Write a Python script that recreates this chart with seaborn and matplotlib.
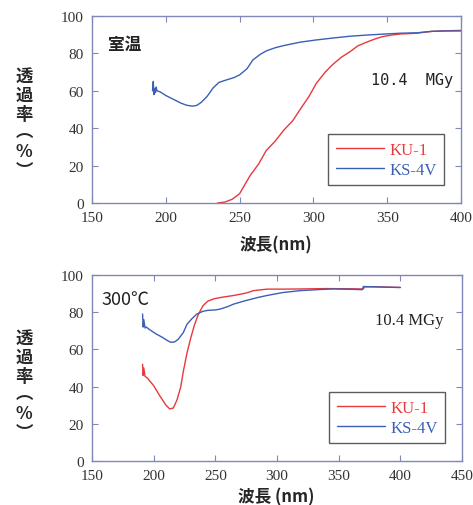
import matplotlib
matplotlib.use("Agg")
import matplotlib.pyplot as plt
import seaborn as sns
import pandas as pd

# top panel: room temperature, 10.4 MGy
rt_ku1_nm = [235, 240, 245, 250, 257, 263, 268, 274, 280, 286, 291, 297, 302, 308, 313, 319, 325,
             330, 336, 342, 347, 353, 359, 365, 370, 376, 381, 390, 400]
rt_ku1_t = [0, 0.5, 2, 5, 14.5, 21, 28, 33, 39, 44, 50, 57, 64, 70, 74, 78, 81,
            84, 86, 87.8, 89, 89.8, 90.4, 90.6, 90.8, 91.4, 91.8, 92.1, 92.3]
rt_ks4v_nm = [191, 191.5, 192, 192.5, 193, 193.5, 194, 196, 200, 205, 210, 214, 218, 221, 224, 228, 232,
              236, 241, 246, 250, 255, 259, 264, 268, 274, 280, 291, 302, 313, 325, 336, 347, 359, 370,
              380, 390, 400]
rt_ks4v_t = [60, 65, 58, 61, 59, 62, 60, 59.5, 57.5, 55.5, 53.5, 52.3, 51.8, 52.2, 53.8, 57, 61.5,
             64.5, 65.8, 67, 68.5, 71.8, 76.5, 79.5, 81.3, 83, 84.2, 86, 87.2, 88.2, 89.2, 89.8, 90.3, 90.8, 91,
             91.8, 92, 92]

# bottom panel: 300 degC, 10.4 MGy
ht_ku1_nm = [191, 191.5, 192, 193, 195, 200, 205, 210, 213, 216, 219, 222, 224, 227, 230, 233, 236,
             240, 244, 249, 255, 265, 275, 281, 292, 305, 319, 340, 360, 370, 371, 380, 390, 400]
ht_ku1_t = [52, 46, 50, 45.5, 44.5, 40.5, 35, 30, 28, 28.5, 33, 40, 48, 58, 66, 73, 78.5,
            83.5, 86, 87.2, 88, 89, 90.3, 91.6, 92.4, 92.4, 92.5, 92.7, 92.6, 92.5, 93.6, 93.7, 93.5, 93.3]
ht_ks4v_nm = [191, 191.5, 192, 193, 194, 197, 202, 207, 211, 214, 217, 220, 224, 227, 231, 235, 240,
              244, 250, 254, 260, 265, 275, 285, 292, 305, 319, 335, 346, 360, 369, 370, 380, 390, 400]
ht_ks4v_t = [79, 72, 76, 71.5, 72, 70.5, 68.3, 66.5, 64.8, 63.8, 64, 65.5, 69, 73.5, 76.5, 79, 80.5,
             81, 81.2, 81.7, 83, 84.4, 86.3, 88, 89, 90.6, 91.6, 92.2, 92.5, 92.3, 92.1, 93.8, 93.6, 93.4, 93.3]

series_names = ["KU-1", "KS-4V"]
series_colors = ["#e8383d", "#3a5fb5"]

sns.set_style("ticks")
plt.rcParams["font.family"] = ["Liberation Serif", "Noto Sans CJK JP"]
spine_col = "#8088b8"

fig = plt.figure(figsize=(4.73, 5.06), dpi=100)
W, H = 473, 506
ax1 = fig.add_axes([92 / W, 1 - 204 / H, 369 / W, 187 / H])
ax2 = fig.add_axes([92 / W, 1 - 462 / H, 370 / W, 186 / H])


def make_df(nm1, t1, nm2, t2):
    return pd.concat([
        pd.DataFrame({"nm": nm1, "t": t1, "s": series_names[0]}),
        pd.DataFrame({"nm": nm2, "t": t2, "s": series_names[1]}),
    ])


panels = [
    (ax1, make_df(rt_ku1_nm, rt_ku1_t, rt_ks4v_nm, rt_ks4v_t), 400),
    (ax2, make_df(ht_ku1_nm, ht_ku1_t, ht_ks4v_nm, ht_ks4v_t), 450),
]

for ax, df, xmax in panels:
    sns.lineplot(data=df, x="nm", y="t", hue="s", palette=series_colors, hue_order=series_names,
                 sort=False, estimator=None, lw=1.0, ax=ax)
    ax.set_xlim(150, xmax)
    ax.set_ylim(0, 100)
    ax.set_xticks(range(150, xmax + 1, 50))
    ax.set_yticks(range(0, 101, 20))
    ax.tick_params(direction="in", top=True, right=True, length=4, color=spine_col,
                   labelsize=11, labelcolor="#333333", pad=6)
    for sp in ax.spines.values():
        sp.set_color(spine_col)
        sp.set_linewidth(1.0)
    ax.set_xlabel("")
    ax.set_ylabel("")
    leg = ax.legend(loc="lower right", bbox_to_anchor=(0.954, 0.095), borderaxespad=0, frameon=True,
                    fancybox=False, fontsize=12, handlelength=2.9, handletextpad=0.3, borderpad=0.45,
                    labelspacing=0.25)
    leg.get_frame().set_edgecolor("#333333")
    leg.get_frame().set_linewidth(1.0)
    for txt, c in zip(leg.get_texts(), series_colors):
        txt.set_color(c)

ax1.text(0.043, 0.85, "室温", transform=ax1.transAxes, va="center", fontsize=12, fontweight="bold",
         family=["Noto Sans CJK JP"], color="#222222")
ax2.text(0.027, 0.87, "300℃", transform=ax2.transAxes, va="center", fontsize=13,
         family=["Noto Sans CJK JP"], color="#222222")
ax1.text(0.978, 0.663, "10.4  MGy", transform=ax1.transAxes, ha="right", va="center", fontsize=11,
         family=["DejaVu Sans Mono"], color="#222222")
ax2.text(0.949, 0.758, "10.4 MGy", transform=ax2.transAxes, ha="right", va="center", fontsize=12,
         color="#222222")

ylab = "透\n過\n率\n︵\n%\n︶"
fig.text(24 / W, 1 - 124 / H, ylab, ha="center", va="center", fontsize=12.5, fontweight="bold",
         family=["Noto Sans CJK JP"], linespacing=1.05)
fig.text(24 / W, 1 - 386 / H, ylab, ha="center", va="center", fontsize=12.5, fontweight="bold",
         family=["Noto Sans CJK JP"], linespacing=1.05)
fig.text(276 / W, 1 - 245 / H, "波長(nm)", ha="center", va="center", fontsize=12, fontweight="bold",
         family=["Noto Sans CJK JP"])
fig.text(276 / W, 1 - 497 / H, "波長 (nm)", ha="center", va="center", fontsize=12, fontweight="bold",
         family=["Noto Sans CJK JP"])

fig.savefig("out.png", dpi=100)
